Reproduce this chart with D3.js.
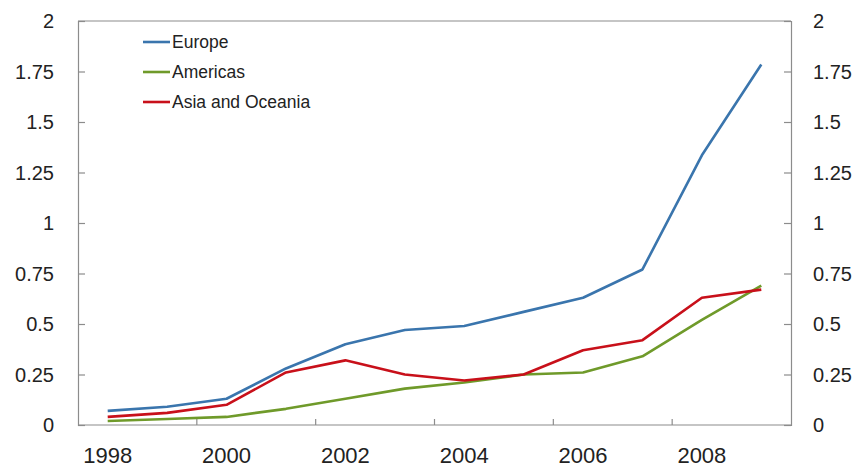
<!DOCTYPE html>
<html><head><meta charset="utf-8">
<script src="https://cdn.jsdelivr.net/npm/d3@7"></script>
<style>body{margin:0;background:#fff}svg{display:block}text{font-family:"Liberation Sans",Arial,sans-serif;fill:#222}</style>
</head><body><svg id="c" width="861" height="470"></svg>
<script>
const years = [1998,1999,2000,2001,2002,2003,2004,2005,2006,2007,2008,2009];
const xLabels = [1998,2000,2002,2004,2006,2008];
const yTicks = [0,0.25,0.5,0.75,1,1.25,1.5,1.75,2];
const europe   = [0.07,0.09,0.13,0.28,0.40,0.47,0.49,0.56,0.63,0.77,1.335,1.785];
const americas = [0.02,0.03,0.04,0.08,0.13,0.18,0.21,0.25,0.26,0.34,0.52,0.69];
const asia     = [0.04,0.06,0.10,0.26,0.32,0.25,0.22,0.25,0.37,0.42,0.63,0.67];
const seriesNames = ["Europe","Americas","Asia and Oceania"];
const seriesColors = ["#3a75ad","#6f9a2a","#c8101a"];
const seriesData = [europe, americas, asia];

const L=78,R=791,T=21,B=425;
const svg=d3.select("#c");
const x=d3.scaleBand().domain(years).range([L,R]).paddingInner(0).paddingOuter(0);
const y=d3.scaleLinear().domain([0,2]).range([B,T]);
const fmt=d=>d===0?"0":String(d);
const axisColor="#8c8c8c";

// frame top
svg.append("line").attr("x1",L).attr("x2",R).attr("y1",T).attr("y2",T).attr("stroke",axisColor).attr("stroke-width",1.2);

const gl=svg.append("g").attr("transform",`translate(${L},0)`).call(d3.axisRight(y).tickValues(yTicks).tickSize(7).tickFormat(""));
const gr=svg.append("g").attr("transform",`translate(${R},0)`).call(d3.axisLeft(y).tickValues(yTicks).tickSize(7).tickFormat(""));
[gl,gr].forEach(g=>{g.select(".domain").attr("stroke",axisColor).attr("stroke-width",1.2);g.selectAll(".tick line").attr("stroke",axisColor).attr("stroke-width",1.2);});

// y labels
svg.append("g").selectAll("text").data(yTicks).join("text").attr("x",54).attr("y",d=>y(d)).attr("dy","0.35em").attr("text-anchor","end").attr("font-size",20).text(fmt);
svg.append("g").selectAll("text").data(yTicks).join("text").attr("x",813).attr("y",d=>y(d)).attr("dy","0.35em").attr("text-anchor","start").attr("font-size",20).text(fmt);

// x axis
svg.append("line").attr("x1",L).attr("x2",R).attr("y1",B).attr("y2",B).attr("stroke",axisColor).attr("stroke-width",1.2);
const tickYears=xLabels.slice(1);
svg.append("g").selectAll("line").data(tickYears).join("line").attr("x1",d=>x(d)).attr("x2",d=>x(d)).attr("y1",B).attr("y2",B-6).attr("stroke",axisColor).attr("stroke-width",1.2);
svg.append("g").selectAll("text").data(xLabels).join("text").attr("x",d=>x(d)+x.bandwidth()/2).attr("y",455).attr("dy","0.35em").attr("text-anchor","middle").attr("font-size",22).text(d=>d);

// lines
const line=d3.line().x((d,i)=>x(years[i])+x.bandwidth()/2).y(d=>y(d));
[1,2,0].forEach(k=>{
 svg.append("path").datum(seriesData[k]).attr("d",line).attr("fill","none").attr("stroke",seriesColors[k]).attr("stroke-width",2.6).attr("stroke-linejoin","round");
});

// legend
const lg=svg.append("g");
seriesNames.forEach((n,i)=>{
 const yy=42+i*30;
 lg.append("line").attr("x1",143).attr("x2",170).attr("y1",yy).attr("y2",yy).attr("stroke",seriesColors[i]).attr("stroke-width",2.6);
 lg.append("text").attr("x",172).attr("y",yy).attr("dy","0.35em").attr("font-size",17.5).text(n);
});
</script></body></html>
